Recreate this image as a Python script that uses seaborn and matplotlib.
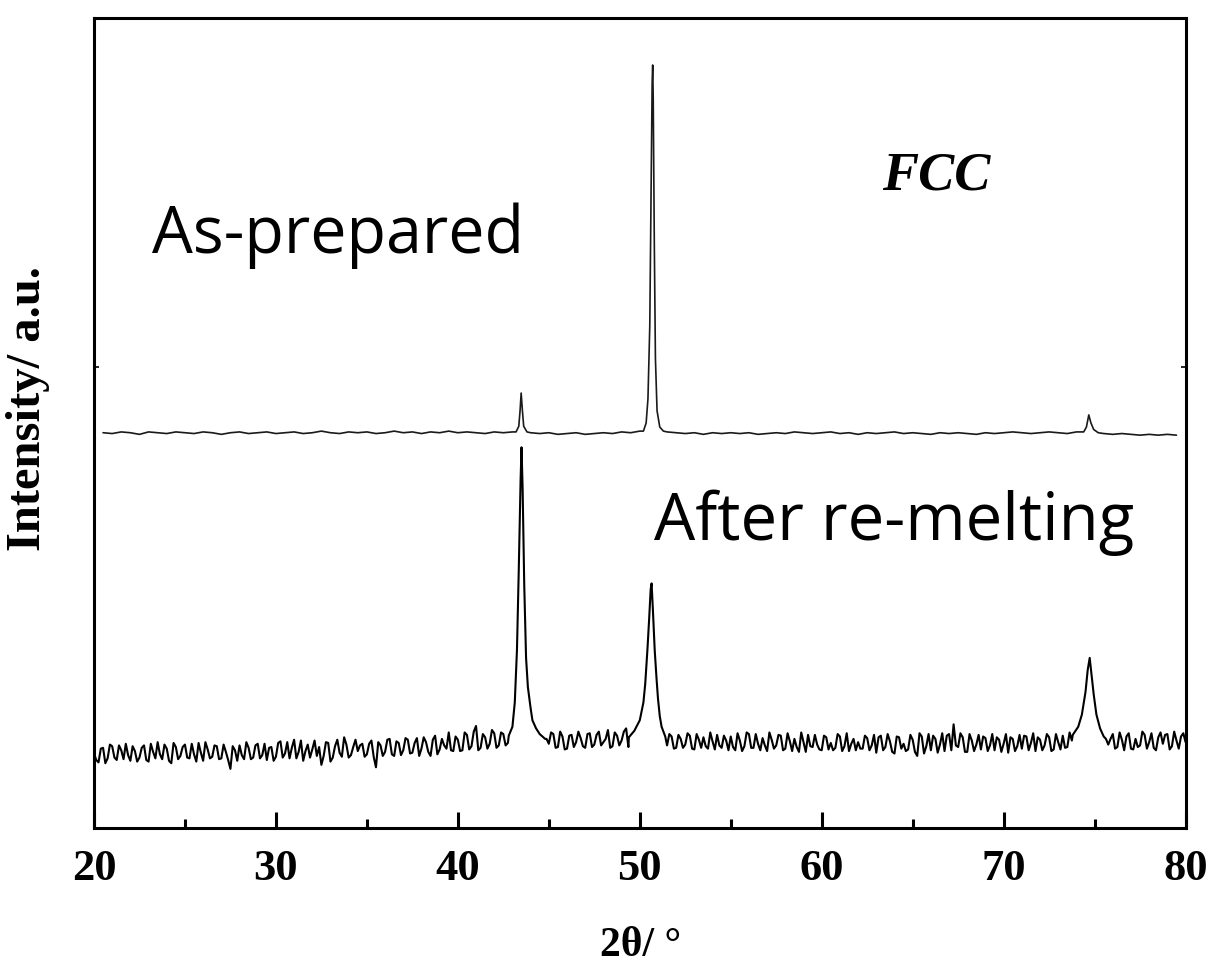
import numpy as np
import matplotlib
matplotlib.use("Agg")
import matplotlib.pyplot as plt
import seaborn as sns

# --- data (intensity in arbitrary units, 0..100 frame) ---
x_ticks = [20, 30, 40, 50, 60, 70, 80]
x_minor = [25, 35, 45, 55, 65, 75]

# as-prepared : background every 0.5 deg
top_bg_x = np.arange(20.5, 79.51, 0.5)
top_bg_y = [
    48.8, 48.7, 48.9, 48.8, 48.6, 48.9, 48.8, 48.7, 48.9, 48.8,
    48.7, 48.9, 48.8, 48.6, 48.8, 48.9, 48.7, 48.8, 48.9, 48.7,
    48.8, 48.9, 48.7, 48.8, 49.0, 48.8, 48.7, 48.9, 48.8, 48.9,
    48.7, 48.8, 49.0, 48.8, 48.9, 48.7, 48.9, 48.8, 49.0, 48.8,
    48.9, 48.8, 48.7, 48.9, 48.8, 48.9, 48.9, 48.8, 48.7, 48.8,
    48.6, 48.7, 48.8, 48.6, 48.7, 48.8, 48.7, 48.9, 48.8, 49.0,
    49.0, 49.0, 48.9, 48.8, 48.7, 48.8, 48.6, 48.8, 48.7, 48.8,
    48.7, 48.8, 48.6, 48.7, 48.8, 48.7, 48.9, 48.8, 48.7, 48.8,
    48.9, 48.7, 48.8, 48.6, 48.8, 48.7, 48.8, 48.9, 48.7, 48.8,
    48.7, 48.6, 48.8, 48.7, 48.8, 48.7, 48.6, 48.8, 48.7, 48.8,
    48.9, 48.8, 48.7, 48.8, 48.9, 48.8, 48.7, 48.9, 49.0, 49.0,
    48.7, 48.6, 48.7, 48.6, 48.5, 48.6, 48.5, 48.6, 48.5,
]
top_peak1_x = [43.2, 43.35, 43.42, 43.48, 43.55, 43.62, 43.8]
top_peak1_y = [48.9, 49.6, 51.5, 53.7, 51.5, 49.6, 48.9]
top_peak2_x = [50.2, 50.35, 50.45, 50.55, 50.62, 50.68, 50.71, 50.74, 50.8, 50.86, 50.95, 51.1, 51.3]
top_peak2_y = [49.0, 50.0, 53.0, 62.0, 78.0, 92.0, 94.2, 90.0, 72.0, 58.0, 51.5, 49.5, 49.0]
top_peak3_x = [74.4, 74.55, 74.68, 74.8, 74.95, 75.2]
top_peak3_y = [48.9, 49.5, 51.0, 50.0, 49.2, 48.8]

# after re-melting : noisy background, samples at every 0.25 deg ...
bot_bg_x = np.arange(20.0, 80.001, 0.25)
bot_bg_y = [
    9.2, 8.1, 9.9, 8.6, 10.1, 8.4, 9.6, 10.4, 8.3, 9.5,
    8.7, 10.2, 8.2, 9.4, 10.6, 8.5, 9.8, 8.0, 10.0, 8.9,
    10.3, 8.6, 9.1, 10.5, 8.3, 9.7, 8.8, 10.1, 8.6, 9.4,
    7.3, 9.6, 10.2, 8.5, 9.9, 8.7, 10.4, 9.0, 8.4, 10.0,
    8.8, 10.7, 9.2, 8.6, 10.9, 9.4, 8.3, 10.3, 9.7, 8.9,
    7.8, 10.6, 8.2, 10.1, 9.3, 11.2, 8.7, 10.0, 9.5, 10.4,
    9.1, 10.8, 7.5, 10.2, 9.4, 11.0, 8.9, 10.5, 9.6, 10.9,
    9.3, 11.1, 9.8, 10.6, 8.9, 11.4, 9.7, 10.2, 11.8, 9.5,
    10.9, 9.6, 11.5, 10.1, 12.6, 9.9, 11.2, 10.4, 11.7, 10.2,
    11.6, 10.5, 11.3, 11.0, 11.0, 11.0, 11.0, 11.0, 11.0, 11.0,
    10.4, 11.6, 10.0, 11.3, 9.8, 11.5, 10.6, 11.1, 9.9, 11.7,
    10.3, 11.9, 10.6, 12.1, 10.1, 11.4, 10.8, 12.3, 11.0, 11.5,
    10.9, 10.9, 10.9, 10.9, 10.9, 10.9, 10.2, 11.3, 9.9, 11.0,
    10.3, 11.4, 9.7, 10.9, 11.2, 9.8, 10.7, 11.5, 9.9, 10.8,
    11.3, 9.6, 10.8, 10.1, 11.6, 9.9, 10.4, 11.1, 9.5, 10.9,
    10.2, 11.4, 9.8, 10.7, 11.0, 9.4, 10.6, 11.5, 10.0, 10.3,
    9.6, 11.2, 10.5, 9.9, 11.3, 10.1, 9.5, 11.0, 10.6, 9.8,
    11.1, 10.2, 9.3, 11.4, 10.0, 10.7, 9.2, 11.2, 10.4, 9.7,
    10.9, 8.9, 11.3, 10.1, 9.6, 11.0, 10.3, 9.5, 11.6, 12.8,
    10.0, 11.2, 9.4, 10.8, 10.3, 9.7, 11.1, 10.2, 9.6, 10.9,
    10.4, 9.3, 11.0, 10.1, 9.8, 11.3, 10.5, 9.5, 10.9, 10.2,
    11.2, 9.7, 10.6, 11.4, 10.0, 10.8, 11.6, 12.0, 11.0, 11.0,
    11.0, 11.0, 11.4, 10.3, 11.6, 10.0, 10.9, 11.3, 9.8, 11.0,
    10.2, 11.5, 10.6, 9.9, 11.2, 10.4, 11.6, 10.1, 10.8, 11.3,
    10.6,
]
# ... and the samples in between them
bot_mid_x = np.arange(20.125, 79.9, 0.25)
bot_mid_y = [
    8.4, 9.8, 8.0, 10.3, 8.7, 10.2, 8.5, 9.0, 10.1, 8.2,
    9.9, 8.4, 10.4, 8.6, 9.1, 10.3, 8.3, 10.5, 8.5, 10.0,
    8.7, 10.4, 8.2, 9.3, 10.6, 8.6, 10.2, 8.5, 10.3, 8.4,
    10.1, 8.3, 9.0, 10.6, 8.5, 10.2, 8.6, 10.4, 9.9, 8.3,
    10.5, 8.7, 10.6, 9.9, 8.6, 10.8, 9.5, 8.7, 10.8, 10.0,
    8.9, 10.5, 8.7, 10.9, 8.8, 10.3, 9.0, 10.9, 10.2, 8.8,
    10.4, 8.8, 10.6, 8.9, 10.9, 9.1, 10.7, 9.0, 11.1, 9.2,
    10.5, 8.9, 11.2, 9.4, 10.9, 9.1, 11.0, 9.8, 9.6, 11.3,
    9.5, 11.8, 9.7, 11.9, 9.6, 11.6, 9.8, 12.1, 9.9, 11.8,
    10.2, 11.0, 11.0, 11.0, 11.0, 11.0, 11.0, 11.0, 11.0, 11.0,
    11.8, 9.9, 11.9, 9.7, 11.4, 10.0, 11.9, 10.1, 11.6, 10.0,
    11.5, 10.2, 11.0, 9.9, 11.8, 10.2, 11.9, 10.0, 11.0, 11.0,
    11.0, 11.0, 11.0, 11.0, 11.0, 11.0, 11.6, 9.8, 11.5, 9.9,
    11.7, 9.8, 11.6, 9.9, 10.1, 11.8, 9.7, 10.2, 11.4, 9.6,
    10.0, 11.7, 9.5, 11.8, 9.9, 11.6, 9.6, 10.2, 11.8, 9.8,
    11.5, 9.6, 11.7, 9.5, 10.0, 11.8, 9.4, 10.1, 11.5, 9.7,
    11.4, 9.7, 9.6, 11.6, 9.5, 11.7, 10.4, 9.6, 9.8, 11.4,
    9.6, 11.5, 11.2, 9.6, 11.6, 9.4, 11.3, 9.8, 9.5, 11.5,
    9.4, 11.7, 9.2, 11.6, 11.4, 9.3, 11.7, 11.4, 9.6, 10.2,
    11.7, 9.4, 11.6, 9.5, 11.5, 11.3, 9.5, 11.6, 11.2, 9.4,
    11.6, 11.2, 9.5, 11.5, 11.4, 9.6, 11.7, 11.2, 9.6, 11.6,
    9.5, 11.6, 9.7, 9.9, 11.8, 9.6, 10.1, 11.0, 11.0, 11.0,
    11.0, 11.0, 11.0, 11.0, 9.8, 11.8, 9.6, 11.7, 9.7, 10.0,
    11.9, 9.8, 11.7, 9.6, 11.8, 11.5, 9.7, 11.9, 9.8, 11.7,
]
bot_peak1_x = [42.8, 43.0, 43.13, 43.25, 43.35, 43.45, 43.5, 43.56, 43.65, 43.75,
               43.85, 44.0, 44.1, 44.3, 44.5, 44.8]
bot_peak1_y = [11.4, 12.5, 15.5, 22.0, 32.0, 43.0, 47.0, 42.0, 30.0, 21.0,
               17.4, 14.8, 13.3, 12.3, 11.6, 11.0]
bot_peak2_x = [49.4, 49.7, 50.0, 50.2, 50.3, 50.42, 50.52, 50.6, 50.65, 50.72,
               50.82, 50.92, 51.0, 51.1, 51.2, 51.4]
bot_peak2_y = [11.2, 12.0, 13.3, 15.5, 17.8, 22.0, 26.0, 29.5, 30.2, 27.0,
               22.0, 18.5, 16.0, 13.8, 12.5, 11.3]
bot_peak3_x = [73.8, 74.1, 74.3, 74.5, 74.62, 74.73, 74.82, 74.95, 75.1, 75.3, 75.5]
bot_peak3_y = [11.5, 12.5, 14.0, 16.8, 19.5, 21.0, 19.2, 16.5, 14.0, 12.3, 11.3]


def merge(bg_x, bg_y, peaks):
    x = np.asarray(bg_x, float)
    y = np.asarray(bg_y, float)
    keep = np.ones(len(x), bool)
    for px, py in peaks:
        keep &= ~((x >= px[0]) & (x <= px[-1]))
    xs = np.concatenate([x[keep]] + [np.asarray(px, float) for px, _ in peaks])
    ys = np.concatenate([y[keep]] + [np.asarray(py, float) for _, py in peaks])
    order = np.argsort(xs)
    return xs[order], ys[order]


top_x, top_y = merge(top_bg_x, top_bg_y, [(top_peak1_x, top_peak1_y),
                                          (top_peak2_x, top_peak2_y),
                                          (top_peak3_x, top_peak3_y)])
bot_x, bot_y = merge(np.concatenate([bot_bg_x, bot_mid_x]),
                     np.concatenate([bot_bg_y, bot_mid_y]),
                     [(bot_peak1_x, bot_peak1_y),
                      (bot_peak2_x, bot_peak2_y),
                      (bot_peak3_x, bot_peak3_y)])

sns.set_style("ticks")
plt.rcParams['font.family'] = ['Liberation Serif', 'DejaVu Serif']
plt.rcParams.update({'text.color': 'black', 'axes.labelcolor': 'black',
                     'xtick.color': 'black', 'ytick.color': 'black'})

fig = plt.figure(figsize=(12.11, 9.73), dpi=100)
ax = fig.add_axes([0.0776, 0.149, 0.9014, 0.8325])

sns.lineplot(x=bot_x, y=bot_y, ax=ax, color='black', linewidth=1.5, estimator=None)
sns.lineplot(x=top_x, y=top_y, ax=ax, color='#1a1a1a', linewidth=1.2, estimator=None)

ax.set_xlim(20, 80)
ax.set_ylim(0, 100)
for s in ax.spines.values():
    s.set_linewidth(2.2)
    s.set_color('black')
    s.set_visible(True)

ax.set_xticks(x_ticks)
ax.set_xticks(x_minor, minor=True)
ax.set_yticks([56.9])
ax.set_yticklabels([])
ax.tick_params(axis='x', which='major', direction='in', length=11.5, width=2.2,
               pad=15, labelsize=32)
ax.tick_params(axis='x', which='minor', direction='in', length=6.5, width=2.2)
ax.tick_params(axis='y', direction='in', length=3.5, width=1.2, left=True, right=True)
for lab in ax.get_xticklabels():
    lab.set_fontweight('bold')

ax.set_xlabel("2θ/ °", fontsize=30, fontweight='bold')
ax.xaxis.set_label_coords(0.501, -0.122)
ax.set_ylabel("Intensity/ a.u.", fontsize=35, fontweight='bold')
ax.yaxis.set_label_coords(-0.040, 0.518)

ax.text(23.2, 71.0, "As-prepared", fontsize=46.5, family=['Open Sans', 'DejaVu Sans'],
        ha='left', va='baseline')
ax.text(50.8, 35.6, "After re-melting", fontsize=47, family=['Open Sans', 'DejaVu Sans'],
        ha='left', va='baseline')
ax.text(63.3, 78.8, "FCC", fontsize=39, fontweight='bold', fontstyle='italic',
        ha='left', va='baseline')

fig.savefig("out.png", dpi=100)
